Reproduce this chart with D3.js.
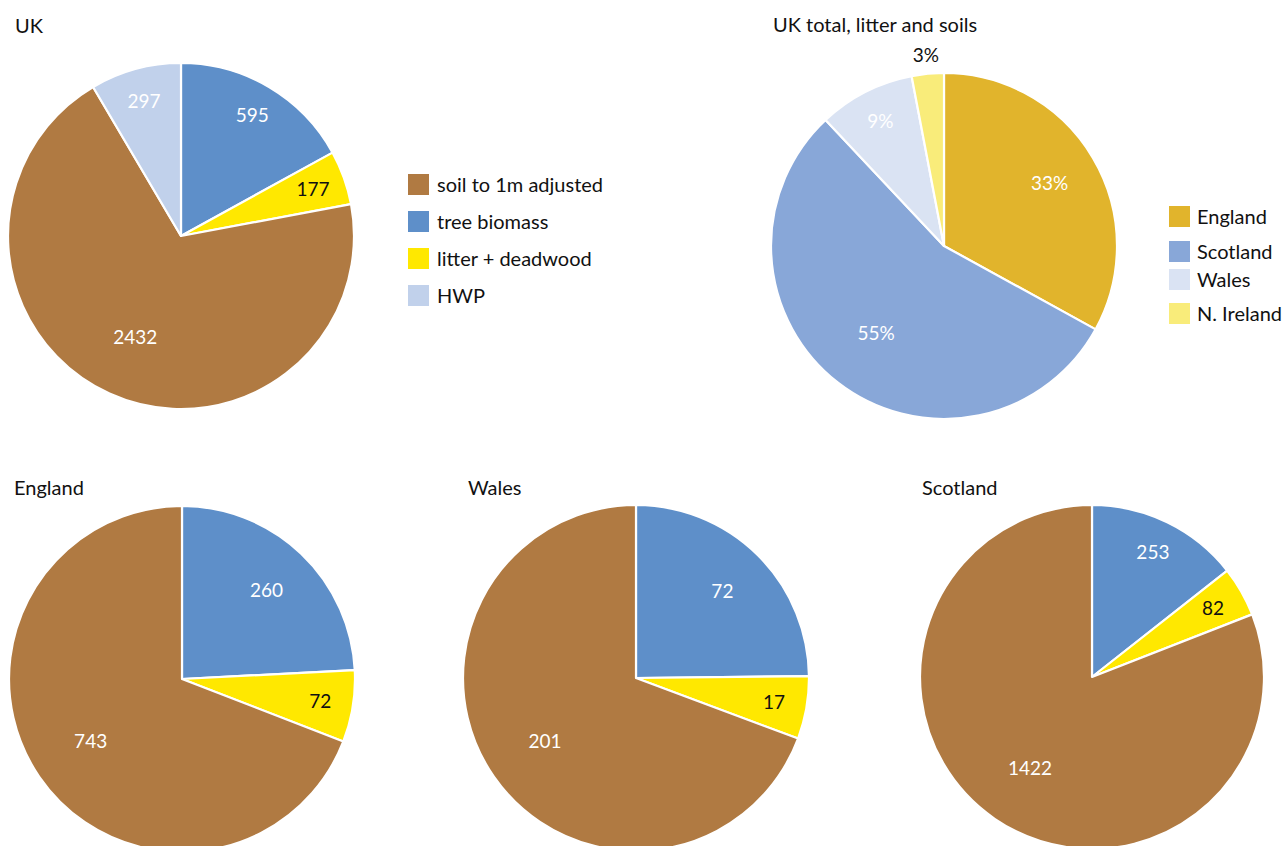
<!DOCTYPE html>
<html>
<head>
<meta charset="utf-8">
<script src="https://cdn.jsdelivr.net/npm/d3@7"></script>
<style>
  html, body { margin: 0; padding: 0; background: #fff; }
  svg { display: block; font-family: Lato, "Open Sans", sans-serif; }
</style>
</head>
<body>
<svg id="chart" width="1285" height="846"></svg>
<script>
// Carbon stock components (pool order: tree biomass, litter, soil, HWP)
const poolNames = ["tree biomass", "litter + deadwood", "soil to 1m adjusted", "HWP"];
const poolColors = ["#5e8fc9", "#ffe800", "#b07a42", "#c1d1eb"];
const legendPools = ["soil to 1m adjusted", "tree biomass", "litter + deadwood", "HWP"];

const ukValues = [595, 177, 2432, 297];
const englandValues = [260, 72, 743];
const walesValues = [72, 17, 201];
const scotlandValues = [253, 82, 1422];

// Share of UK total litter and soils by country
const countryNames = ["England", "Scotland", "Wales", "N. Ireland"];
const countryShares = [33, 55, 9, 3];
const countryColors = ["#e1b42c", "#88a7d8", "#dae3f3", "#f9ec7a"];

const svg = d3.select("#chart");

const pieGen = d3.pie().sort(null).value(d => d.value);

function drawPie(cfg) {
  const g = svg.append("g").attr("transform", `translate(${cfg.cx},${cfg.cy})`);
  const items = cfg.values.map((v, i) => ({ value: v, color: cfg.colors[i], label: cfg.labels[i], dark: cfg.darkText[i] }));
  const arcs = pieGen(items);
  const arc = d3.arc().innerRadius(0).outerRadius(cfg.r);
  const total = d3.sum(cfg.values);

  g.selectAll("path.slice")
    .data(arcs)
    .join("path")
    .attr("class", "slice")
    .attr("d", arc)
    .attr("fill", d => d.data.color)
    .attr("stroke", "#fff")
    .attr("stroke-width", 2.2)
    .attr("stroke-linejoin", "round");

  g.selectAll("text.val")
    .data(arcs)
    .join("text")
    .attr("class", "val")
    .attr("transform", d => {
      const f = d.data.value / total;
      let k;
      if (f < 0.04) k = 1.11;
      else if (f > 0.5) k = 0.64;
      else if (f > 0.2) k = 0.71;
      else k = 0.81;
      const a = (d.startAngle + d.endAngle) / 2;
      return `translate(${Math.sin(a) * cfg.r * k},${-Math.cos(a) * cfg.r * k})`;
    })
    .attr("text-anchor", "middle")
    .attr("dy", "0.36em")
    .attr("font-size", 19)
    .attr("fill", d => {
      const f = d.data.value / total;
      return (d.data.dark || f < 0.04) ? "#111" : "#fff";
    })
    .text(d => d.data.label);

  svg.append("text")
    .attr("x", cfg.titleX)
    .attr("y", cfg.titleY)
    .attr("font-size", 20)
    .attr("fill", "#111")
    .text(cfg.title);
}

function colorOf(name) {
  return poolColors[poolNames.indexOf(name)];
}

// UK pools
drawPie({
  title: "UK", titleX: 15, titleY: 33,
  cx: 181, cy: 236, r: 173,
  values: ukValues,
  colors: poolColors,
  labels: ukValues.map(String),
  darkText: [false, true, false, false]
});

// UK total by country (percent)
drawPie({
  title: "UK total, litter and soils", titleX: 773, titleY: 32,
  cx: 944, cy: 246, r: 173,
  values: countryShares,
  colors: countryColors,
  labels: countryShares.map(v => v + "%"),
  darkText: [false, false, false, true]
});

drawPie({
  title: "England", titleX: 14, titleY: 495,
  cx: 182, cy: 679, r: 173,
  values: englandValues,
  colors: poolColors,
  labels: englandValues.map(String),
  darkText: [false, true, false]
});

drawPie({
  title: "Wales", titleX: 468, titleY: 495,
  cx: 636, cy: 678, r: 173,
  values: walesValues,
  colors: poolColors,
  labels: walesValues.map(String),
  darkText: [false, true, false]
});

drawPie({
  title: "Scotland", titleX: 922, titleY: 495,
  cx: 1092, cy: 677, r: 172,
  values: scotlandValues,
  colors: poolColors,
  labels: scotlandValues.map(String),
  darkText: [false, true, false]
});

// Legend for carbon pools
const leg1 = svg.append("g").attr("transform", "translate(408,174)");
legendPools.forEach((name, i) => {
  const row = leg1.append("g").attr("transform", `translate(0,${i * 37})`);
  row.append("rect").attr("width", 21).attr("height", 21).attr("fill", colorOf(name));
  row.append("text").attr("x", 29).attr("y", 10.5).attr("dy", "0.36em")
    .attr("font-size", 20).attr("fill", "#111").text(name);
});

// Legend for countries
const leg2Offsets = [0, 35, 63, 97];
const leg2 = svg.append("g").attr("transform", "translate(1169,206)");
countryNames.forEach((name, i) => {
  const row = leg2.append("g").attr("transform", `translate(0,${leg2Offsets[i]})`);
  row.append("rect").attr("width", 21).attr("height", 21).attr("fill", countryColors[i]);
  row.append("text").attr("x", 28).attr("y", 10.5).attr("dy", "0.36em")
    .attr("font-size", 20).attr("fill", "#111").text(name);
});
</script>
</body>
</html>
